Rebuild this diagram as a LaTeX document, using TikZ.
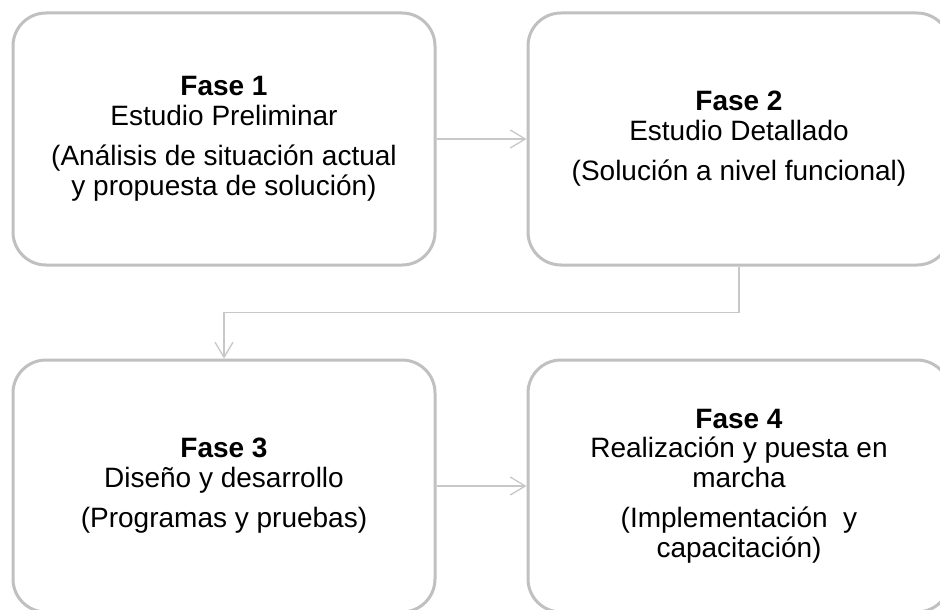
\documentclass[tikz,border=0pt]{standalone}
\usepackage{fontspec}
\setmainfont{Liberation Sans}
\usetikzlibrary{arrows.meta}
\definecolor{boxgray}{HTML}{C0C0C0}
\definecolor{linegray}{HTML}{C8C8C8}
\tikzset{
  phase/.style={draw=boxgray, line width=3pt, rounded corners=33pt,
    minimum width=422pt, minimum height=252pt, inner sep=0pt,
    align=center, text=black,
    font=\fontsize{28}{29.5}\selectfont},
  conn/.style={draw=linegray, line width=1.3pt,
    -{Straight Barb[length=15pt,width=18pt,line width=1.3pt]}}
}
\begin{document}
\begin{tikzpicture}[x=1pt,y=-1pt]
\useasboundingbox (0,0) rectangle (940,610);
\clip (0,0) rectangle (940,610);
\node[phase] (b1) at (224,139) {\textbf{Fase 1}\\Estudio Preliminar\\[11pt](Análisis de situación actual\\y propuesta de solución)};
\node[phase] (b2) at (739,139) {\textbf{Fase 2}\\Estudio Detallado\\[11pt](Solución a nivel funcional)};
\node[phase] (b3) at (224,486) {\textbf{Fase 3}\\Diseño y desarrollo\\[11pt](Programas y pruebas)};
\node[phase] (b4) at (739,486) {\textbf{Fase 4}\\Realización y puesta en\\marcha\\[11pt](Implementación\ \ y\\capacitación)};
\draw[conn] (b1.east) -- (b2.west);
\draw[conn] (b2.south) -- ++(0,46) coordinate (k) -| (b3.north);
\draw[conn] (b3.east) -- (b4.west);
\end{tikzpicture}
\end{document}
